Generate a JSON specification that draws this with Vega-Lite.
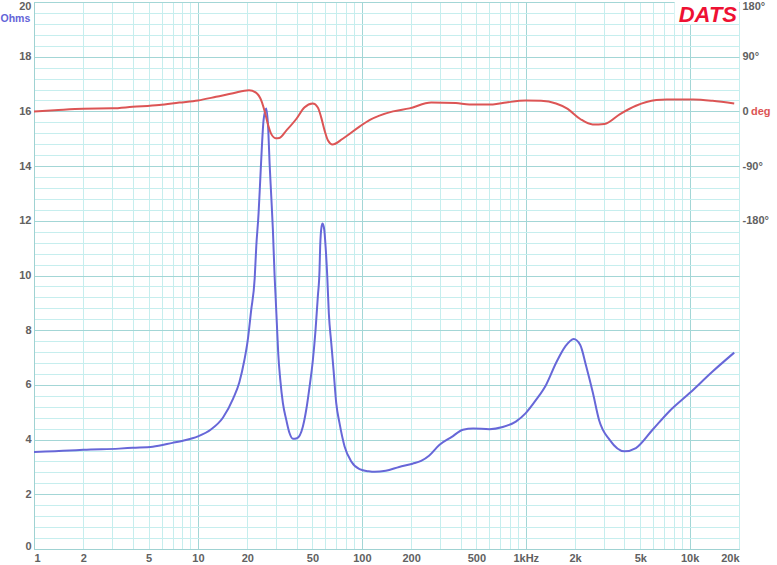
{
  "$schema": "https://vega.github.io/schema/vega-lite/v6.json",
  "width": 705,
  "height": 547,
  "autosize": "none",
  "padding": {"left": 34, "top": 2, "right": 38, "bottom": 16},
  "background": "white",
  "config": {
    "view": {"stroke": "#9fd2d2", "strokeWidth": 1},
    "axis": {
      "labelFont": "Liberation Sans",
      "labelFontWeight": "bold",
      "labelFontSize": 11,
      "labelColor": "#616161",
      "ticks": false,
      "domainColor": "#9fd2d2",
      "gridWidth": 1,
      "gridOpacity": 1,
      "labelOverlap": false,
      "labelBound": false
    }
  },
  "datasets": {
    "imp": [
      {"f": 1, "z": 3.55}, {"f": 1.65, "z": 3.6}, {"f": 2, "z": 3.63}, {"f": 3.3, "z": 3.67}, {"f": 4, "z": 3.7},
      {"f": 5.3, "z": 3.74}, {"f": 7, "z": 3.88}, {"f": 8.1, "z": 3.96}, {"f": 10, "z": 4.12}, {"f": 12, "z": 4.37},
      {"f": 14.2, "z": 4.8}, {"f": 16.4, "z": 5.5}, {"f": 17.9, "z": 6.1}, {"f": 19.2, "z": 6.9}, {"f": 20.1, "z": 7.6},
      {"f": 21.1, "z": 8.7}, {"f": 22.2, "z": 9.9}, {"f": 22.7, "z": 11.06}, {"f": 23.45, "z": 12.28}, {"f": 24.0, "z": 13.49},
      {"f": 24.56, "z": 14.71}, {"f": 25.15, "z": 15.68}, {"f": 26.13, "z": 16.11}, {"f": 26.87, "z": 15.32}, {"f": 27.37, "z": 14.1},
      {"f": 28.03, "z": 12.88}, {"f": 28.67, "z": 11.67}, {"f": 29.36, "z": 10.0}, {"f": 29.78, "z": 9.23}, {"f": 30.3, "z": 8.26},
      {"f": 30.9, "z": 7.16}, {"f": 31.8, "z": 6.19}, {"f": 33.0, "z": 5.33}, {"f": 34.6, "z": 4.72}, {"f": 36.2, "z": 4.24},
      {"f": 38.0, "z": 4.03}, {"f": 40.2, "z": 4.05}, {"f": 43.7, "z": 4.48}, {"f": 45.8, "z": 5.09}, {"f": 48.0, "z": 5.94},
      {"f": 50.3, "z": 6.92}, {"f": 52.2, "z": 8.01}, {"f": 53.9, "z": 9.23}, {"f": 55.2, "z": 10.2}, {"f": 55.7, "z": 11.06},
      {"f": 56.8, "z": 11.79}, {"f": 57.6, "z": 11.9}, {"f": 59.0, "z": 11.67}, {"f": 60.1, "z": 11.06}, {"f": 61.5, "z": 10.0},
      {"f": 62.9, "z": 8.62}, {"f": 65.1, "z": 7.53}, {"f": 67.2, "z": 6.55}, {"f": 69.8, "z": 5.33}, {"f": 73.1, "z": 4.6},
      {"f": 78.5, "z": 3.75}, {"f": 86.2, "z": 3.2}, {"f": 96.8, "z": 2.92}, {"f": 110, "z": 2.84}, {"f": 120, "z": 2.82},
      {"f": 140, "z": 2.86}, {"f": 169, "z": 3.0}, {"f": 204, "z": 3.12}, {"f": 230, "z": 3.22}, {"f": 257, "z": 3.41},
      {"f": 298, "z": 3.81}, {"f": 352, "z": 4.09}, {"f": 414, "z": 4.36}, {"f": 478, "z": 4.41}, {"f": 600, "z": 4.38},
      {"f": 724, "z": 4.46}, {"f": 870, "z": 4.66}, {"f": 1000, "z": 4.97}, {"f": 1155, "z": 5.45}, {"f": 1330, "z": 6.0},
      {"f": 1530, "z": 6.8}, {"f": 1740, "z": 7.4}, {"f": 1960, "z": 7.68}, {"f": 2150, "z": 7.46}, {"f": 2340, "z": 6.67},
      {"f": 2570, "z": 5.7}, {"f": 2800, "z": 4.72}, {"f": 3250, "z": 3.99}, {"f": 4000, "z": 3.57}, {"f": 4700, "z": 3.69},
      {"f": 5940, "z": 4.36}, {"f": 7500, "z": 5.03}, {"f": 10000, "z": 5.7}, {"f": 13800, "z": 6.49}, {"f": 18700, "z": 7.18}
    ],
    "phase": [
      {"f": 1, "p": 0}, {"f": 1.34, "p": 2}, {"f": 2, "p": 4.5}, {"f": 3, "p": 5}, {"f": 4, "p": 7.5},
      {"f": 5.8, "p": 10.5}, {"f": 7.7, "p": 14.5}, {"f": 10, "p": 18}, {"f": 12.9, "p": 24}, {"f": 16.4, "p": 30},
      {"f": 20.5, "p": 35}, {"f": 22.6, "p": 31}, {"f": 24.4, "p": 17.5}, {"f": 25.5, "p": 1}, {"f": 26.7, "p": -20.6},
      {"f": 28, "p": -37}, {"f": 29.8, "p": -44}, {"f": 31.4, "p": -43.6}, {"f": 34.6, "p": -31.6}, {"f": 39.8, "p": -12.5},
      {"f": 44.6, "p": 6.5}, {"f": 50.2, "p": 13}, {"f": 53.9, "p": 6.5}, {"f": 56.5, "p": -9.8}, {"f": 59.3, "p": -31.6},
      {"f": 62.2, "p": -48}, {"f": 66.2, "p": -54.5}, {"f": 76.5, "p": -45}, {"f": 96.8, "p": -25}, {"f": 112, "p": -14},
      {"f": 128, "p": -7}, {"f": 155, "p": 0}, {"f": 195, "p": 5}, {"f": 265, "p": 14.7}, {"f": 375, "p": 13.7},
      {"f": 453, "p": 11.5}, {"f": 630, "p": 11.5}, {"f": 760, "p": 14.7}, {"f": 1000, "p": 18}, {"f": 1240, "p": 17.5},
      {"f": 1530, "p": 13}, {"f": 1780, "p": 5}, {"f": 2150, "p": -12.5}, {"f": 2560, "p": -21.5}, {"f": 3020, "p": -20.6},
      {"f": 3760, "p": -4.3}, {"f": 4700, "p": 9.3}, {"f": 6260, "p": 18.6}, {"f": 7240, "p": 19.6}, {"f": 10500, "p": 19.6},
      {"f": 13800, "p": 17.5}, {"f": 18700, "p": 13}
    ],
    "label": [{"name": "DATS"}]
  },
  "layer": [
    {
      "data": {"name": "imp"},
      "mark": {"type": "line", "interpolate": "monotone", "color": "#6767d8", "strokeWidth": 2},
      "encoding": {
        "x": {
          "field": "f", "type": "quantitative",
          "scale": {"type": "log", "domain": [1, 20000], "nice": false},
          "axis": {
            "title": null,
            "values": [1,2,3,4,5,6,7,8,9,10,20,30,40,50,60,70,80,90,100,200,300,400,500,600,700,800,900,1000,2000,3000,4000,5000,6000,7000,8000,9000,10000,20000],
            "grid": true,
            "gridColor": {"condition": {"test": "indexof([1,10,100,1000,10000], datum.value) >= 0", "value": "#a3d6d6"}, "value": "#c6eeee"},
            "labelExpr": "datum.value == 1000 ? '1kHz' : indexof([1,2,5,10,20,50,100,200,500], datum.value) >= 0 ? '' + datum.value : indexof([2000,5000,10000,20000], datum.value) >= 0 ? (datum.value / 1000) + 'k' : ''",
            "labelPadding": 3
          }
        },
        "y": {
          "field": "z", "type": "quantitative",
          "scale": {"domain": [0, 20], "nice": false, "zero": false},
          "axis": {
            "orient": "left",
            "values": [0,0.4,0.8,1.2,1.6,2,2.4,2.8,3.2,3.6,4,4.4,4.8,5.2,5.6,6,6.4,6.8,7.2,7.6,8,8.4,8.8,9.2,9.6,10,10.4,10.8,11.2,11.6,12,12.4,12.8,13.2,13.6,14,14.4,14.8,15.2,15.6,16,16.4,16.8,17.2,17.6,18,18.4,18.8,19.2,19.6,20],
            "grid": true,
            "gridColor": {"condition": {"test": "abs(datum.value / 2 - round(datum.value / 2)) < 0.01", "value": "#a3d6d6"}, "value": "#c6eeee"},
            "labelExpr": "abs(datum.value / 2 - round(datum.value / 2)) < 0.01 ? '' + round(datum.value) : ''",
            "labelFlush": true,
            "labelFlushOffset": 2,
            "labelPadding": 3,
            "title": "Ohms",
            "titleAngle": 0,
            "titleX": -34,
            "titleY": 16,
            "titleAlign": "left",
            "titleBaseline": "middle",
            "titleColor": "#6464d8",
            "titleFont": "Liberation Sans",
            "titleFontSize": 10.5,
            "titleFontWeight": "bold"
          }
        }
      }
    },
    {
      "data": {"name": "phase"},
      "mark": {"type": "line", "interpolate": "monotone", "color": "#dc5555", "strokeWidth": 2},
      "encoding": {
        "x": {"field": "f", "type": "quantitative"},
        "y": {
          "field": "p", "type": "quantitative",
          "scale": {"domain": [-720, 180], "nice": false, "zero": false},
          "axis": {
            "orient": "right",
            "values": [-180, -90, 0, 90, 180],
            "grid": false,
            "domain": false,
            "labelAlign": "left",
            "labelPadding": 3,
            "labelFlush": true,
            "labelFlushOffset": 2,
            "labelExpr": "datum.value == 0 ? '0' : datum.value + '°'",
            "title": "deg",
            "titleAngle": 0,
            "titleX": 11.5,
            "titleY": 109,
            "titleAlign": "left",
            "titleBaseline": "middle",
            "titleColor": "#dc5555",
            "titleFont": "Liberation Sans",
            "titleFontSize": 11,
            "titleFontWeight": "bold"
          }
        }
      }
    },
    {
      "data": {"name": "label"},
      "layer": [
        {
          "mark": {"type": "rect", "color": "white", "opacity": 1},
          "encoding": {
            "x": {"datum": 8100, "type": "quantitative"},
            "x2": {"datum": 20000},
            "y": {"datum": 19.2, "type": "quantitative", "scale": {"domain": [0, 20], "nice": false, "zero": false}, "axis": null},
            "y2": {"datum": 20}
          }
        },
        {
          "mark": {"type": "text", "align": "right", "baseline": "alphabetic", "dx": -2, "dy": 20, "font": "Liberation Sans", "fontSize": 22, "fontWeight": "bold", "fontStyle": "italic", "color": "#ee1133"},
          "encoding": {
            "x": {"datum": 20000, "type": "quantitative"},
            "y": {"datum": 20, "type": "quantitative", "scale": {"domain": [0, 20], "nice": false, "zero": false}, "axis": null},
            "text": {"field": "name"}
          }
        }
      ]
    }
  ],
  "resolve": {"scale": {"y": "independent"}}
}
